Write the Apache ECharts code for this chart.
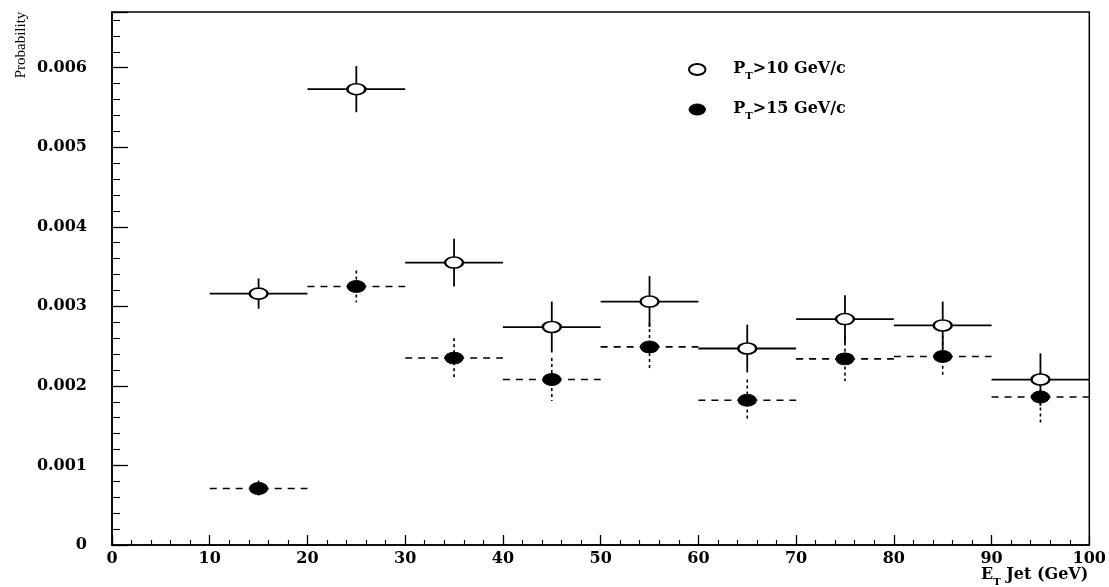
<!DOCTYPE html>
<html>
<head>
<meta charset="utf-8">
<script src="https://cdn.jsdelivr.net/npm/echarts@6/dist/echarts.min.js"></script>
<style>
  html, body { margin: 0; padding: 0; background: #fff; }
  #chart { width: 1109px; height: 587px; }
</style>
</head>
<body>
<div id="chart"></div>
<script>
// Jet E_T bins (GeV): centres and half-widths
const binCenters = [15, 25, 35, 45, 55, 65, 75, 85, 95];
const binHalfWidths = [5, 5, 5, 5, 5, 5, 5, 5, 5];

// Probability and its uncertainty, P_T > 10 GeV/c
const probPt10 = [0.00316, 0.00573, 0.00355, 0.00274, 0.00306, 0.00247, 0.00284, 0.00276, 0.00208];
const errPt10  = [0.00019, 0.00029, 0.00030, 0.00032, 0.00032, 0.00030, 0.00030, 0.00030, 0.00033];

// Probability and its uncertainty, P_T > 15 GeV/c
const probPt15 = [0.00071, 0.00325, 0.00235, 0.00208, 0.00249, 0.00182, 0.00234, 0.00237, 0.00186];
const errPt15  = [0.00010, 0.00020, 0.00025, 0.00027, 0.00030, 0.00026, 0.00028, 0.00026, 0.00032];

// Series labels
const seriesNames = ['PT>10 GeV/c', 'PT>15 GeV/c'];
const legendRich = ['{g|}{b|P}{s|T}{b|>10 GeV/c}', '{g|}{b|P}{s|T}{b|>15 GeV/c}'];
const xAxisTitle = '{b|E}{s|T}{b| Jet (GeV)}';
const yAxisTitle = 'Probability';

const ELLIPSE = 'path://M0,6A9,6,0,1,1,18,6A9,6,0,1,1,0,6Z';
const LABEL_FONT = 'DejaVu Serif';

const subRich = {
  g: { width: 22 },
  b: { fontFamily: LABEL_FONT, fontWeight: 'bold', fontSize: 16, lineHeight: 17, verticalAlign: 'top', color: '#000' },
  s: { fontFamily: LABEL_FONT, fontWeight: 'bold', fontSize: 10, lineHeight: 10, padding: [10, 0, 0, 0], verticalAlign: 'top', color: '#000' }
};

function barData(prob, err) {
  return binCenters.map((x, i) => [x, prob[i], binHalfWidths[i], err[i]]);
}
function pointData(prob) {
  return binCenters.map((x, i) => [x, prob[i]]);
}

// Horizontal bin-width bar plus vertical uncertainty bar for each point
function errorBars(dashed) {
  return function (params, api) {
    const x = api.value(0), y = api.value(1), dx = api.value(2), dy = api.value(3);
    const l = api.coord([x - dx, y]);
    const r = api.coord([x + dx, y]);
    const t = api.coord([x, y + dy]);
    const b = api.coord([x, y - dy]);
    return {
      type: 'group',
      children: [
        { type: 'line', shape: { x1: l[0], y1: l[1], x2: r[0], y2: r[1] },
          style: { stroke: '#000', lineWidth: dashed ? 1.6 : 1.8, lineDash: dashed ? [7, 6] : null } },
        { type: 'line', shape: { x1: t[0], y1: t[1], x2: b[0], y2: b[1] },
          style: { stroke: '#000', lineWidth: dashed ? 1.6 : 1.8, lineDash: dashed ? [3, 3] : null } }
      ]
    };
  };
}

const chart = echarts.init(document.getElementById('chart'), null, { renderer: 'canvas' });

chart.setOption({
  backgroundColor: '#fff',
  animation: false,
  grid: { left: 112, right: 19, top: 12, bottom: 38, show: true, borderColor: '#000', borderWidth: 1.5 },
  legend: {
    left: 683, top: 56, orient: 'vertical', itemGap: 20,
    itemWidth: 18, itemHeight: 11, selectedMode: false,
    data: [
      { name: seriesNames[0], icon: ELLIPSE, itemStyle: { color: '#fff', borderColor: '#000', borderWidth: 2 } },
      { name: seriesNames[1], icon: ELLIPSE, itemStyle: { color: '#000', borderColor: '#000', borderWidth: 1 } }
    ],
    formatter: name => legendRich[seriesNames.indexOf(name)],
    textStyle: { rich: subRich }
  },
  xAxis: {
    type: 'value', min: 0, max: 100, interval: 10,
    name: xAxisTitle, nameLocation: 'end', nameGap: -1,
    nameTextStyle: { align: 'right', verticalAlign: 'top', padding: [22, 0, 0, 0], rich: subRich },
    axisLine: { lineStyle: { color: '#000', width: 1.5 } },
    axisTick: { inside: true, length: 10, lineStyle: { color: '#000', width: 1.3 } },
    minorTick: { show: true, splitNumber: 5, length: 5, lineStyle: { color: '#000', width: 1.1 } },
    axisLabel: { margin: 6, color: '#000', fontFamily: LABEL_FONT, fontWeight: 'bold', fontSize: 16 },
    splitLine: { show: false }
  },
  yAxis: [
    {
      type: 'value', min: 0, max: 0.0067, interval: 0.001,
      axisLine: { lineStyle: { color: '#000', width: 1.5 } },
      axisTick: { inside: true, length: 16, lineStyle: { color: '#000', width: 1.3 } },
      axisLabel: {
        margin: 25, color: '#000', fontFamily: LABEL_FONT, fontWeight: 'bold', fontSize: 16,
        formatter: v => {
          const k = v * 1000;
          if (Math.abs(k - Math.round(k)) > 1e-6) return '';
          return Math.round(k) === 0 ? '0' : v.toFixed(3);
        }
      },
      splitLine: { show: false }
    },
    {
      // minor ticks every 0.0002
      type: 'value', min: 0, max: 0.0067, interval: 0.0002, position: 'left',
      axisLine: { show: false },
      axisTick: { inside: true, length: 8, lineStyle: { color: '#000', width: 1.1 } },
      axisLabel: { show: false },
      splitLine: { show: false }
    }
  ],
  graphic: [
    {
      type: 'text', x: 21, y: 45, rotation: Math.PI / 2,
      style: { text: yAxisTitle, align: 'center', verticalAlign: 'middle',
               font: '15px "Liberation Serif"', fill: '#000' }
    }
  ],
  series: [
    {
      type: 'custom', name: 'bars10', renderItem: errorBars(false), silent: true, z: 2,
      encode: { x: 0, y: 1 }, data: barData(probPt10, errPt10)
    },
    {
      type: 'custom', name: 'bars15', renderItem: errorBars(true), silent: true, z: 2,
      encode: { x: 0, y: 1 }, data: barData(probPt15, errPt15)
    },
    {
      type: 'scatter', name: seriesNames[0], symbol: ELLIPSE, symbolSize: [18, 11], z: 5, silent: true,
      itemStyle: { color: '#fff', borderColor: '#000', borderWidth: 2, opacity: 1 },
      data: pointData(probPt10)
    },
    {
      type: 'scatter', name: seriesNames[1], symbol: ELLIPSE, symbolSize: [18, 12], z: 5, silent: true,
      itemStyle: { color: '#000', borderColor: '#000', borderWidth: 1, opacity: 1 },
      data: pointData(probPt15)
    }
  ]
});
</script>
</body>
</html>
